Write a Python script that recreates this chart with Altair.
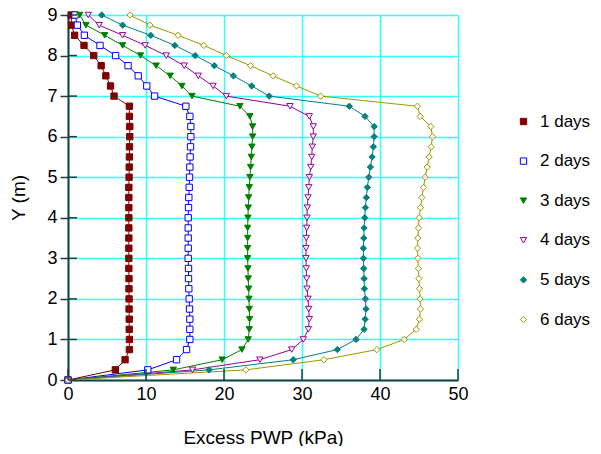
import altair as alt
import pandas as pd

series = ["1 days", "2 days", "3 days", "4 days", "5 days", "6 days"]
colors = ["#800000", "#0000FF", "#008000", "#990099", "#008080", "#999900"]
fills = ["#800000", "#FFFFFF", "#008000", "#FFFFFF", "#008080", "#FFFFFF"]
shapes = ["square", "square", "triangle-down", "triangle-down", "diamond", "diamond"]

depth = [0, 0.25, 0.5, 0.75, 1.0, 1.25, 1.5, 1.75, 2.0, 2.25, 2.5, 2.75, 3.0,
         3.25, 3.5, 3.75, 4.0, 4.25, 4.5, 4.75, 5.0, 5.25, 5.5, 5.75, 6.0,
         6.25, 6.5, 6.75, 7.0, 7.25, 7.5, 7.75, 8.0, 8.25, 8.5, 8.75, 9.0]

pwp_1 = [0, 6.07, 7.32, 7.87, 7.87, 7.85, 7.85, 7.83, 7.83, 7.82, 7.82, 7.8, 7.8,
         7.8, 7.8, 7.8, 7.8, 7.8, 7.8, 7.8, 7.83, 7.85, 7.87, 7.88, 7.92,
         7.92, 7.87, 7.87, 5.9, 5.45, 4.85, 4.25, 3.3, 2.05, 0.85, 0.45, 0.4]
pwp_2 = [0, 10.23, 13.92, 15.2, 15.62, 15.62, 15.62, 15.58, 15.54, 15.49, 15.45, 15.45, 15.41,
         15.41, 15.41, 15.41, 15.41, 15.45, 15.49, 15.54, 15.58, 15.62, 15.66, 15.71, 15.75,
         15.75, 15.62, 15.11, 11.1, 10.1, 9.0, 7.7, 6.1, 4.1, 2.1, 1.2, 0.9]
pwp_3 = [0, 13.5, 19.77, 22.3, 23.1, 23.24, 23.28, 23.24, 23.2, 23.16, 23.11, 23.07, 23.03,
         23.03, 23.03, 23.03, 23.07, 23.11, 23.16, 23.24, 23.32, 23.41, 23.5, 23.58, 23.67,
         23.67, 23.32, 22.04, 15.9, 14.6, 13.1, 11.3, 9.3, 7.0, 4.7, 2.3, 1.5]
pwp_4 = [0, 15.96, 24.6, 28.68, 30.17, 30.81, 30.94, 30.86, 30.77, 30.64, 30.6, 30.55, 30.51,
         30.51, 30.55, 30.6, 30.64, 30.68, 30.77, 30.86, 30.94, 31.12, 31.25, 31.32, 31.45,
         31.45, 30.94, 28.46, 20.3, 18.6, 16.7, 14.9, 12.6, 9.9, 7.0, 4.0, 2.6]
pwp_5 = [0, 18.1, 28.88, 34.53, 36.93, 37.96, 38.1, 38.2, 38.13, 38.0, 37.96, 37.92, 37.87,
         37.87, 37.92, 37.96, 38.05, 38.13, 38.25, 38.38, 38.56, 38.77, 38.99, 39.15, 39.25,
         39.25, 38.08, 36.07, 25.8, 23.55, 21.2, 18.76, 16.3, 13.7, 10.6, 7.0, 4.32]
pwp_6 = [0, 22.8, 32.82, 39.6, 43.1, 44.64, 45.06, 45.19, 45.15, 45.06, 44.98, 44.93, 44.85,
         44.8, 44.85, 44.93, 45.02, 45.19, 45.37, 45.58, 45.8, 46.05, 46.3, 46.56, 46.73,
         46.52, 45.15, 44.8, 32.4, 29.3, 26.3, 23.4, 20.3, 17.4, 14.1, 10.5, 7.95]

x_ticks = [0, 10, 20, 30, 40, 50]
y_ticks = [0, 1, 2, 3, 4, 5, 6, 7, 8, 9]

rows = []
for name, vals in zip(series, [pwp_1, pwp_2, pwp_3, pwp_4, pwp_5, pwp_6]):
    for i, (d, v) in enumerate(zip(depth, vals)):
        rows.append({"series": name, "line_series": "L" + name, "x": v, "y": d, "k": i})
df = pd.DataFrame(rows)

W, H = 390, 365
FONT = "Liberation Sans"
AXC = "#1f3d3d"

xs = alt.Scale(domain=[0, 50], nice=False, zero=False)
ys = alt.Scale(domain=[0, 9], nice=False, zero=False)

x_enc = alt.X("x:Q", scale=xs, axis=alt.Axis(
    values=x_ticks, title="Excess PWP (kPa)", ticks=False, tickSize=0,
    labelPadding=5, labelFontSize=18, titleFontSize=19, titleFontWeight="normal",
    titleY=57, titleBaseline="middle", labelColor="#000000", titleColor="#000000",
    domainColor=AXC, domainWidth=2, gridColor="#33FFFF", gridWidth=1.5,
    labelFont=FONT, titleFont=FONT, labelFlush=False))
y_enc = alt.Y("y:Q", scale=ys, axis=alt.Axis(
    values=y_ticks, title="Y (m)", tickSize=8, tickColor=AXC, tickWidth=1.5,
    labelPadding=3, labelFontSize=18, titleFontSize=19, titleFontWeight="normal",
    titleX=-50, titleY=H / 2, titleBaseline="middle", titleAlign="center",
    labelColor="#000000", titleColor="#000000",
    domainColor=AXC, domainWidth=2, gridColor="#33FFFF", gridWidth=1.5,
    labelFont=FONT, titleFont=FONT, labelFlush=False))

leg = alt.Legend(title=None, orient="none", legendX=447, legendY=98,
                 labelFontSize=17, labelFont=FONT, labelColor="#000000",
                 rowPadding=21.6, labelOffset=8, symbolSize=40, symbolStrokeWidth=1,
                 padding=0, labelLimit=200)

lines = alt.Chart(df).mark_line(strokeWidth=1).encode(
    x=x_enc, y=y_enc,
    color=alt.Color("line_series:N", scale=alt.Scale(range=colors), legend=None),
    order=alt.Order("k:Q"),
    detail="series:N",
)

points = alt.Chart(df).mark_point(filled=True, size=40, strokeWidth=1, opacity=1).encode(
    x=alt.X("x:Q", scale=xs),
    y=alt.Y("y:Q", scale=ys),
    fill=alt.Fill("series:N", scale=alt.Scale(domain=series, range=fills), legend=leg),
    stroke=alt.Stroke("series:N", scale=alt.Scale(domain=series, range=colors), legend=leg),
    shape=alt.Shape("series:N", scale=alt.Scale(domain=series, range=shapes), legend=leg),
)

xt = alt.Chart(pd.DataFrame({"t": x_ticks})).mark_rule(color=AXC, strokeWidth=1.5).encode(
    x=alt.X("t:Q", scale=xs), y=alt.value(H), y2=alt.value(H - 11))
yt = alt.Chart(pd.DataFrame({"t": y_ticks})).mark_rule(color=AXC, strokeWidth=1.5).encode(
    y=alt.Y("t:Q", scale=ys), x=alt.value(0), x2=alt.value(9))

chart = alt.layer(lines, points, xt, yt).properties(
    width=W, height=H,
    autosize=alt.AutoSizeParams(type="none"),
    padding={"left": 60, "top": 7, "right": 135, "bottom": 66},
    background="white",
).configure_view(stroke="transparent")

chart.save("out.html", embed_options={"renderer": "svg", "actions": False})
